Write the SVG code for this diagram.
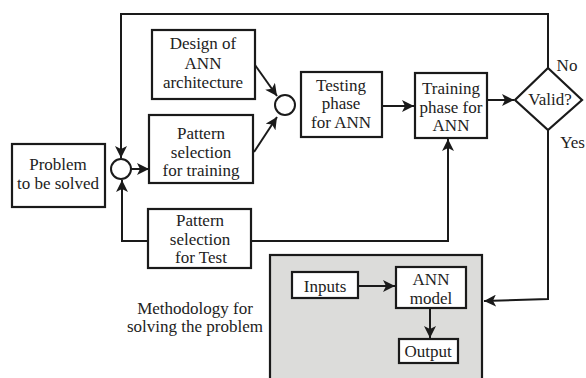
<svg xmlns="http://www.w3.org/2000/svg" width="586" height="378" viewBox="0 0 586 378">
<defs>
<marker id="ah" viewBox="0 0 10 10" refX="10" refY="5" markerWidth="6" markerHeight="6" markerUnits="strokeWidth" orient="auto">
<path d="M0,0 L10,5 L0,10 L2.5,5 Z" fill="#1a1a1a"/>
</marker>
<style>
.box{fill:#fff;stroke:#1a1a1a;stroke-width:2.2}
.c{fill:none;stroke:#1a1a1a;stroke-width:2}
.a{fill:none;stroke:#1a1a1a;stroke-width:2;marker-end:url(#ah)}
text{font-family:"Liberation Serif","Times New Roman",serif;font-size:17px;fill:#222;text-anchor:middle}
</style>
</defs>
<rect width="586" height="378" fill="#fff"/>
<g id="methodology-panel">
<rect x="270" y="255" width="212" height="130" fill="#dcdcda" stroke="#1a1a1a" stroke-width="2.2"/>
</g>
<g id="problem"><rect class="box" x="12" y="144" width="93" height="63"/><text x="58" y="170">Problem</text><text x="58" y="189">to be solved</text></g>
<g id="join1"><circle cx="121" cy="169" r="10" fill="#fff" stroke="#1a1a1a" stroke-width="2"/></g>
<g id="design"><rect class="box" x="152" y="30" width="103" height="69"/><text x="203" y="49">Design of</text><text x="203" y="69">ANN</text><text x="203" y="88">architecture</text></g>
<g id="pattern-training"><rect class="box" x="149" y="115" width="104" height="68"/><text x="201" y="139">Pattern</text><text x="201" y="158">selection</text><text x="201" y="176">for training</text></g>
<g id="join2"><circle cx="285" cy="105" r="10" fill="#fff" stroke="#1a1a1a" stroke-width="2"/></g>
<g id="testing"><rect class="box" x="301" y="72" width="81" height="65"/><text x="341" y="91">Testing</text><text x="341" y="109">phase</text><text x="341" y="128">for ANN</text></g>
<g id="training"><rect class="box" x="415" y="73" width="72" height="65"/><text x="451" y="94">Training</text><text x="451" y="113">phase for</text><text x="451" y="131">ANN</text></g>
<g id="valid"><polygon points="548,68 582,100 548,130 515,100" fill="#fff" stroke="#1a1a1a" stroke-width="2.2"/><text x="550" y="105">Valid?</text></g>
<g id="pattern-test"><rect class="box" x="148" y="209" width="103" height="59"/><text x="200" y="226">Pattern</text><text x="200" y="245">selection</text><text x="201" y="263">for Test</text></g>
<g id="inputs"><rect class="box" x="292" y="272" width="66" height="26"/><text x="325" y="292">Inputs</text></g>
<g id="ann-model"><rect class="box" x="396" y="267" width="70" height="41"/><text x="431" y="285">ANN</text><text x="431" y="304">model</text></g>
<g id="output"><rect class="box" x="399" y="339" width="59" height="24"/><text x="428" y="357">Output</text></g>
<g id="labels">
<text x="567" y="71">No</text>
<text x="585" y="148" style="text-anchor:end">Yes</text>
<text x="195" y="314">Methodology for</text>
<text x="195" y="332">solving the problem</text>
</g>
<g id="connectors">
<path class="a" d="M548,68 V14 H121 V158"/>
<path class="a" d="M147,241 H122 V180"/>
<path class="a" d="M131,169 H149"/>
<path class="a" d="M255,65 L277,96"/>
<path class="a" d="M254,152 L277,117"/>
<path class="a" d="M382,106 H414"/>
<path class="a" d="M487,100 H514"/>
<path class="a" d="M252,241 H448 V139"/>
<path class="a" d="M548,130 V299 L484,301"/>
<path class="a" d="M358,286 H395"/>
<path class="a" d="M430,308 V338"/>
</g>
</svg>
